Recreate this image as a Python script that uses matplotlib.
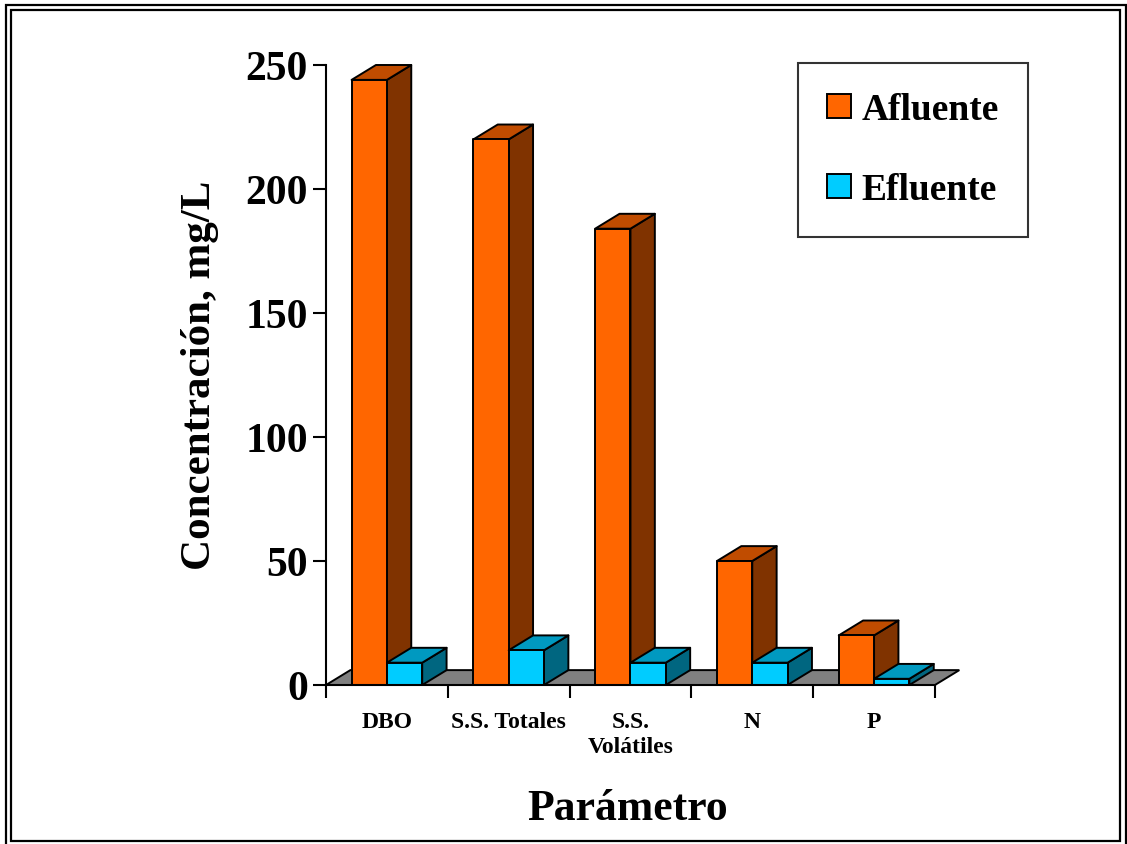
import matplotlib
matplotlib.use("Agg")
import matplotlib.pyplot as plt
from matplotlib.patches import Polygon, Rectangle, Patch

# data
categories = ["DBO", "S.S. Totales", "S.S.\nVolátiles", "N", "P"]
afluente = [244, 220, 184, 50, 20]
efluente = [9, 14, 9, 9, 2.5]
series_names = ["Afluente", "Efluente"]

# colours: front, top, side
ORANGE = ("#FF6600", "#C04C00", "#803300")
CYAN = ("#00CCFF", "#0099C0", "#006680")
FLOOR = "#808080"

plt.rcParams.update({
    "font.family": ["Liberation Serif", "DejaVu Serif"],
    "font.weight": "bold",
    "axes.labelweight": "bold",
})

W, H = 1127, 845
fig = plt.figure(figsize=(W / 100, H / 100), dpi=100)
fig.patch.set_facecolor("white")

# double frame around the chart
fig.patches.append(Rectangle((6 / W, -0.01), 1119.5 / W, (845 - 6) / H + 0.01,
                             transform=fig.transFigure, fill=False,
                             edgecolor="black", linewidth=1.6))
fig.patches.append(Rectangle((11.5 / W, (845 - 842) / H), 1108.5 / W, (842 - 11) / H,
                             transform=fig.transFigure, fill=False,
                             edgecolor="black", linewidth=1.6))

ax = fig.add_axes([326 / W, 159 / H, 645.5 / W, 632.4 / H])
ax.set_xlim(0, 5.3)
ax.set_ylim(0, 255)
ax.set_facecolor("none")

DX, DY = 0.2, 6.0       # depth offset of the 3D look (x in categories, y in mg/L)
BW = 0.29               # bar width
n = len(categories)

floor = Polygon([(0, 0), (n, 0), (n + DX, DY), (DX, DY)], closed=True,
                facecolor=FLOOR, edgecolor="black", linewidth=1.4, zorder=1,
                clip_on=False)
ax.add_patch(floor)


def bar3d(x0, v, cols):
    x1 = x0 + BW
    kw = dict(edgecolor="black", linewidth=1.4, clip_on=False, zorder=3,
              joinstyle="round")
    ax.add_patch(Polygon([(x1, 0), (x1 + DX, DY), (x1 + DX, v + DY), (x1, v)],
                         facecolor=cols[2], **kw))
    ax.add_patch(Polygon([(x0, v), (x1, v), (x1 + DX, v + DY), (x0 + DX, v + DY)],
                         facecolor=cols[1], **kw))
    ax.add_patch(Polygon([(x0, 0), (x1, 0), (x1, v), (x0, v)],
                         facecolor=cols[0], **kw))


for i in range(n):
    bar3d(i + 0.5 - BW, afluente[i], ORANGE)
    bar3d(i + 0.5, efluente[i], CYAN)

for s in ("top", "right"):
    ax.spines[s].set_visible(False)
ax.spines["left"].set_bounds(0, 250)
ax.spines["bottom"].set_bounds(0, n)
for s in ("left", "bottom"):
    ax.spines[s].set_linewidth(1.5)
    ax.spines[s].set_zorder(4)

ax.set_yticks([0, 50, 100, 150, 200, 250])
ax.tick_params(axis="y", direction="out", length=9.5, width=1.5, pad=3.5,
               labelsize=30)
ax.set_xticks(range(n + 1))
ax.set_xticklabels([])
ax.set_xticks([i + 0.5 for i in range(n)], minor=True)
ax.set_xticklabels(categories, minor=True, fontsize=17, fontweight="bold",
                   va="top", linespacing=1.2)
ax.tick_params(axis="x", which="major", direction="out", length=9.5, width=1.5)
ax.tick_params(axis="x", which="minor", length=0, pad=19)
for lab in ax.get_yticklabels():
    lab.set_fontweight("bold")

fig.text(200 / W, 470 / H, "Concentración, mg/L", rotation=90, ha="center",
         va="center", fontsize=31, fontweight="bold")
fig.text(628 / W, 25 / H, "Parámetro", ha="center", va="baseline",
         fontsize=31.5, fontweight="bold")

handles = [Patch(facecolor=ORANGE[0], edgecolor="black", linewidth=1.4),
           Patch(facecolor=CYAN[0], edgecolor="black", linewidth=1.4)]
leg = fig.legend(handles, series_names, loc="upper right",
                 bbox_to_anchor=(1028 / W, (845 - 64) / H),
                 prop={"family": ["Liberation Serif"], "weight": "bold", "size": 27},
                 frameon=True, fancybox=False, shadow=False,
                 handlelength=0.64, handleheight=0.64, handletextpad=0.28,
                 labelspacing=1.2, borderpad=0.78, borderaxespad=0)
leg.get_frame().set_edgecolor("black")
leg.get_frame().set_linewidth(1.5)
leg.get_frame().set_facecolor("white")

fig.savefig("out.png", dpi=100)
